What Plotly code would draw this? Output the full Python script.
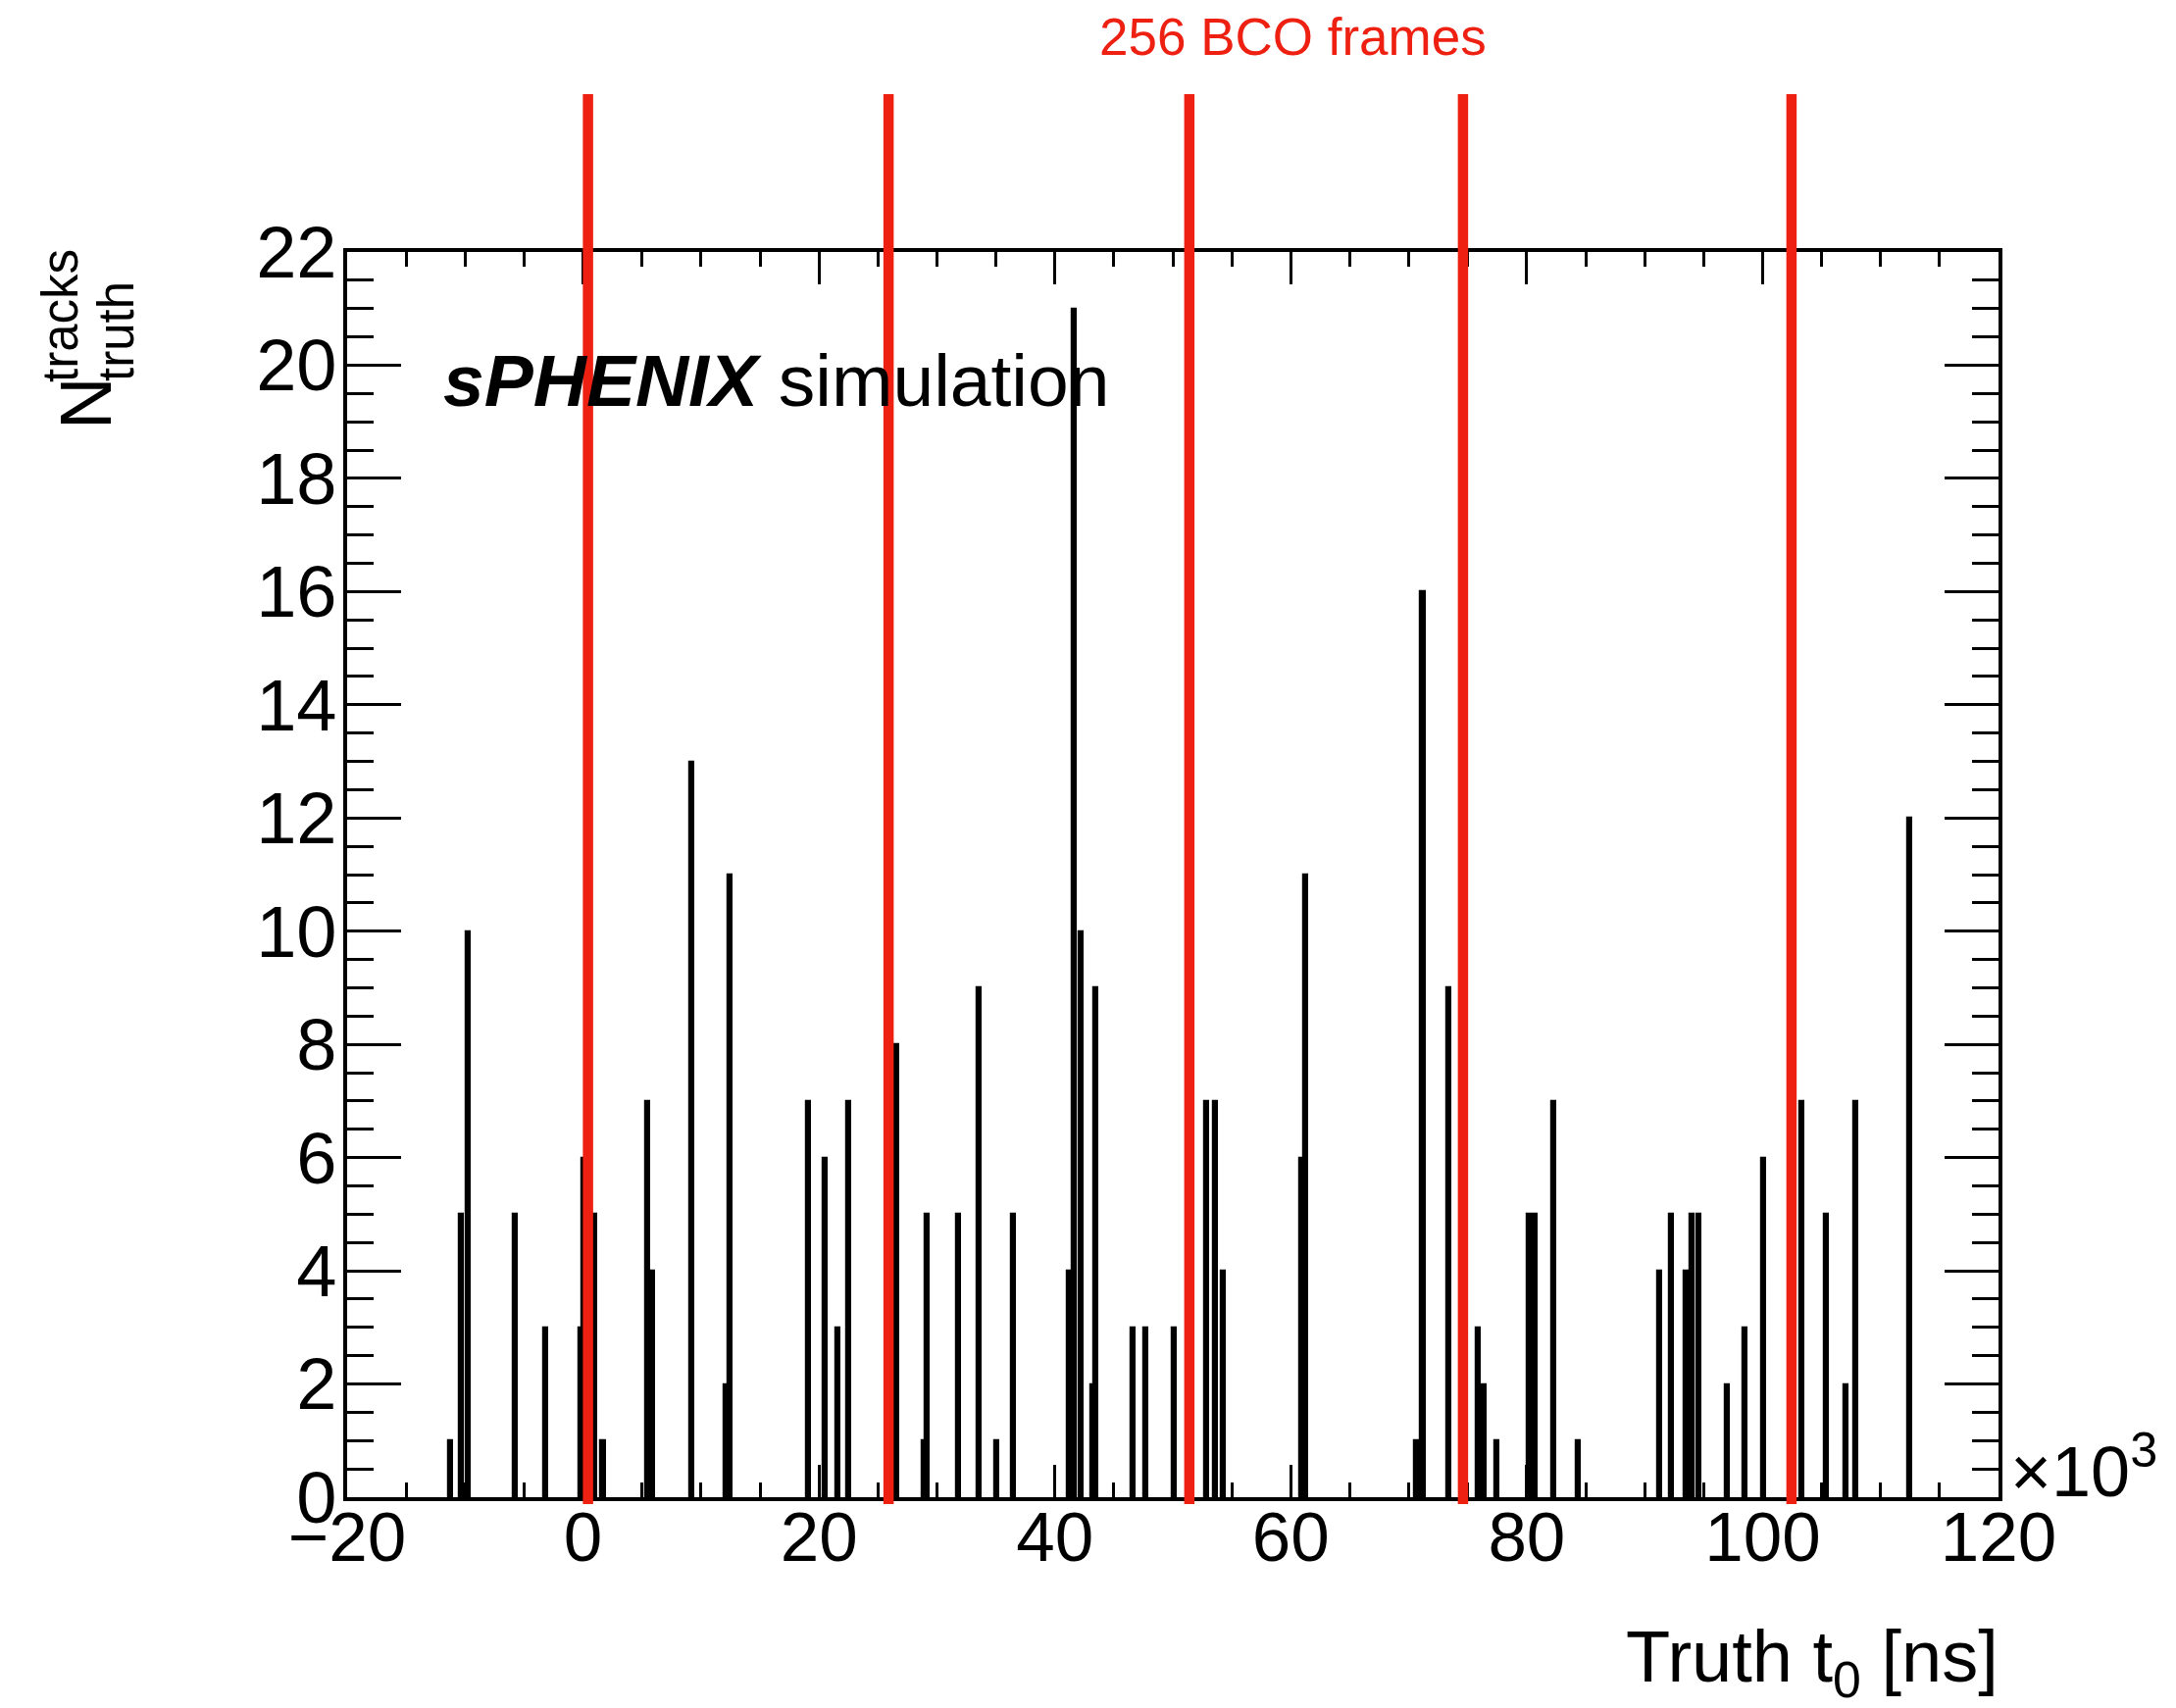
import plotly.graph_objects as go

# ---- data (truth t0 in units of 10^3 ns) ----
t0_k = [-11.2, -10.35, -9.7, -5.77, -3.2, -0.15, 0.1, 0.95, 1.7, 5.45, 5.9, 9.2,
        12.15, 12.5, 19.1, 20.5, 21.6, 22.5, 26.6, 28.9, 29.2, 31.8, 33.6, 35.1,
        36.5, 41.25, 41.65, 42.2, 43.2, 43.5, 46.6, 47.7, 50.1, 52.9, 53.6, 54.3,
        60.95, 61.3, 70.7, 71.2, 73.4, 75.9, 76.4, 77.5, 80.2, 80.75, 82.3, 84.4,
        91.3, 92.3, 93.5, 94.05, 94.6, 97.0, 98.5, 100.1, 103.3, 105.4, 107.1,
        107.9, 112.5]
n_tracks = [1, 5, 10, 5, 3, 3, 6, 5, 1, 7, 4, 13,
            2, 11, 7, 6, 3, 7, 8, 1, 5, 5, 9, 1,
            5, 4, 21, 10, 2, 9, 3, 3, 3, 7, 7, 4,
            6, 11, 1, 16, 9, 3, 2, 1, 5, 5, 7, 1,
            4, 5, 4, 5, 5, 2, 3, 6, 7, 5, 2,
            7, 12]
bco_frames_k = [0.42, 25.9, 51.4, 74.6, 102.45]
x_ticks = [-20, 0, 20, 40, 60, 80, 100, 120]
y_ticks = [0, 2, 4, 6, 8, 10, 12, 14, 16, 18, 20, 22]

W, H = 2219, 1742
L, R, T, B = 354, 2038, 257, 1527
FONT = "Liberation Sans, Arial, Helvetica, sans-serif"
RED = "rgb(238,32,18)"


def px(x):
    return (x - L) / (R - L)


def py(y):
    return (B - y) / (B - T)


fig = go.Figure()
fig.add_trace(go.Bar(x=t0_k, y=n_tracks, width=0.42,
                     marker=dict(color="black", line=dict(width=1.2, color="black")),
                     showlegend=False))

for xb in bco_frames_k:
    fig.add_shape(type="line", xref="x", yref="paper", x0=xb, x1=xb,
                  y0=py(1534), y1=py(96), line=dict(color=RED, width=10.5), layer="above")

fig.update_xaxes(range=[-20, 120], tickvals=x_ticks,
                 ticktext=[f"{v:d}".replace("-", "\u2212") for v in x_ticks],
                 showline=True, linecolor="black", linewidth=3.5, mirror="ticks",
                 ticks="inside", ticklen=33, tickwidth=3, tickcolor="black",
                 minor=dict(ticks="inside", ticklen=15, tickwidth=3, tickcolor="black", dtick=5, tick0=0),
                 showgrid=False, zeroline=False,
                 tickfont=dict(family=FONT, size=71, color="black"), ticklabelstandoff=-24)
fig.update_yaxes(range=[0, 22], tickvals=y_ticks,
                 showline=True, linecolor="black", linewidth=3.5, mirror="ticks",
                 ticks="inside", ticklen=55, tickwidth=3, tickcolor="black",
                 minor=dict(ticks="inside", ticklen=27, tickwidth=3, tickcolor="black", dtick=0.5, tick0=0),
                 showgrid=False, zeroline=False,
                 tickfont=dict(family=FONT, size=74, color="black"), ticklabelstandoff=-8)

ann = []
ann.append(dict(text="256 BCO frames", xref="paper", yref="paper", x=px(1318), y=py(37),
                xanchor="center", yanchor="middle", showarrow=False,
                font=dict(family=FONT, size=53, color=RED)))
ann.append(dict(text="<b><i>sPHENIX</i></b> simulation", xref="paper", yref="paper",
                x=px(450), y=py(388), xanchor="left", yanchor="middle", showarrow=False,
                font=dict(family=FONT, size=75, color="black")))
ann.append(dict(text="\u00d710<sup>3</sup>", xref="paper", yref="paper",
                x=px(2048), y=py(1495), xanchor="left", yanchor="middle", showarrow=False,
                font=dict(family=FONT, size=72, color="black")))
ann.append(dict(text="Truth t<sub>0</sub> [ns]", xref="paper", yref="paper",
                x=px(2040), y=py(1695), xanchor="right", yanchor="middle", showarrow=False,
                font=dict(family=FONT, size=74, color="black")))
# y-axis title N^{tracks}_{truth}
ann.append(dict(text="N", xref="paper", yref="paper", x=px(87), y=py(412),
                xanchor="center", yanchor="middle", textangle=-90, showarrow=False,
                font=dict(family=FONT, size=74, color="black")))
ann.append(dict(text="truth", xref="paper", yref="paper", x=px(118), y=py(338),
                xanchor="center", yanchor="middle", textangle=-90, showarrow=False,
                font=dict(family=FONT, size=51, color="black")))
ann.append(dict(text="tracks", xref="paper", yref="paper", x=px(61), y=py(322),
                xanchor="center", yanchor="middle", textangle=-90, showarrow=False,
                font=dict(family=FONT, size=51, color="black")))

fig.update_layout(width=W, height=H, margin=dict(l=L, r=W - R, t=T, b=H - B, autoexpand=False),
                  plot_bgcolor="white", paper_bgcolor="white", bargap=0,
                  annotations=ann, font=dict(family=FONT, color="black"))

fig.write_html("out.html", config={"displayModeBar": False},
               post_script="document.body.style.margin='0px';document.body.style.overflow='hidden';")
